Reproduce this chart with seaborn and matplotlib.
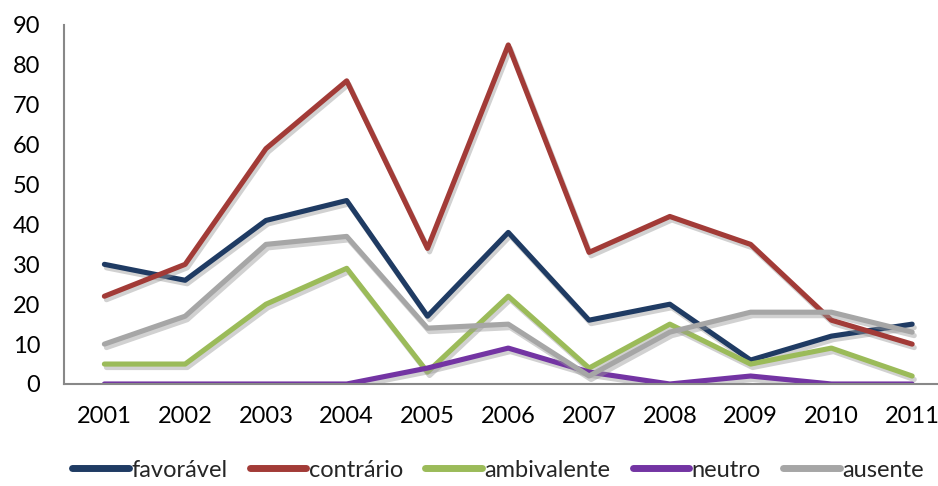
import pandas as pd
import matplotlib.pyplot as plt
import matplotlib.patheffects as pe
from matplotlib.lines import Line2D
import seaborn as sns

anos        = ["2001", "2002", "2003", "2004", "2005", "2006",
               "2007", "2008", "2009", "2010", "2011"]
favoravel   = [30, 26, 41, 46, 17, 38, 16, 20, 6, 12, 15]
contrario   = [22, 30, 59, 76, 34, 85, 33, 42, 35, 16, 10]
ambivalente = [5, 5, 20, 29, 3, 22, 4, 15, 5, 9, 2]
neutro      = [0, 0, 0, 0, 4, 9, 3, 0, 2, 0, 0]
ausente     = [10, 17, 35, 37, 14, 15, 2, 13, 18, 18, 13]

series = {"favorável": favoravel, "contrário": contrario,
          "ambivalente": ambivalente, "neutro": neutro, "ausente": ausente}
cores = {"favorável": "#1F3B63", "contrário": "#A23B37",
         "ambivalente": "#9BBB59", "neutro": "#7334A3", "ausente": "#A6A6A6"}

df = pd.DataFrame([(a, s, v) for s, vals in series.items()
                   for a, v in zip(anos, vals)],
                  columns=["Ano", "Posição", "Valor"])
df["x"] = df["Ano"].map({a: i for i, a in enumerate(anos)})

sns.set_style("white")
plt.rcParams["font.family"] = ["Lato", "DejaVu Sans"]

fig = plt.figure(figsize=(9.38, 4.86), dpi=100)
ax = fig.add_axes([64/938, 1 - 384/486, (938 - 64)/938, (384 - 25)/486])

sns.lineplot(data=df, x="x", y="Valor", hue="Posição",
             hue_order=list(series), palette=cores, linewidth=3.7,
             ax=ax, legend=False)

sombra = [pe.SimpleLineShadow(offset=(1.5, -2.5), shadow_color="#999999",
                              alpha=0.45), pe.Normal()]
for ln in ax.get_lines():
    ln.set_path_effects(sombra)
    ln.set_solid_capstyle("round")

ax.set_xlim(-0.5, 10.32)
ax.set_ylim(0, 90)
ax.set_xticks(range(len(anos)))
ax.set_xticklabels(anos)
ax.set_yticks(range(0, 91, 10))
ax.tick_params(axis="both", length=0, labelsize=17, colors="#000000")
ax.tick_params(axis="x", pad=16)
ax.tick_params(axis="y", pad=17)
ax.set_xlabel("")
ax.set_ylabel("")
for lado in ["top", "right"]:
    ax.spines[lado].set_visible(False)
for lado in ["left", "bottom"]:
    ax.spines[lado].set_color("#888888")
    ax.spines[lado].set_linewidth(1.5)

# legenda sem sombra
handles = [Line2D([], [], color=cores[s], lw=5, solid_capstyle="round")
           for s in series]
fig.legend(handles, list(series), loc="center",
           bbox_to_anchor=(0.531, 1 - 470/486),
           ncol=5, frameon=False, fontsize=17, handlelength=2.4,
           handletextpad=0.1, columnspacing=0.95, borderpad=0)

fig.savefig("out.png", dpi=100)
